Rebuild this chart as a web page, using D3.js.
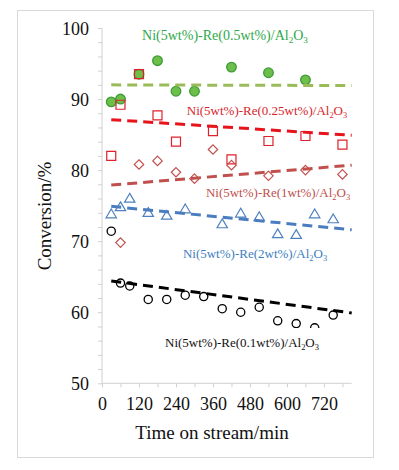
<!DOCTYPE html>
<html>
<head>
<meta charset="utf-8">
<script src="https://cdn.jsdelivr.net/npm/d3@7"></script>
<style>
  body { margin: 0; background: #fff; }
  text { font-family: "Liberation Serif", "Times New Roman", serif; }
</style>
</head>
<body>
<div id="chart"></div>
<script>
const width = 399;
const height = 470;

// series data (time in min, conversion in %)
const re05_time = [30, 60, 120, 180, 240, 300, 420, 540, 660];
const re05_conv = [89.6, 90.0, 93.5, 95.4, 91.1, 91.1, 94.5, 93.7, 92.7];
const re025_time = [30, 60, 120, 180, 240, 360, 420, 540, 660, 780];
const re025_conv = [82.0, 89.2, 93.5, 87.7, 84.0, 85.5, 81.5, 84.1, 84.8, 83.6];
const re1_time = [60, 120, 180, 240, 300, 360, 420, 540, 660, 780];
const re1_conv = [69.8, 80.8, 81.3, 79.7, 78.8, 82.9, 80.7, 79.2, 80.0, 79.4];
const re2_time = [30, 60, 90, 150, 210, 270, 390, 450, 510, 570, 630, 690, 750];
const re2_conv = [73.8, 74.8, 76.0, 74.0, 73.6, 74.5, 72.4, 73.9, 73.4, 71.0, 70.9, 73.8, 73.1];
const re01_time = [30, 60, 90, 150, 210, 270, 330, 390, 450, 510, 570, 630, 690, 750];
const re01_conv = [71.4, 64.1, 63.7, 61.8, 61.8, 62.4, 62.2, 60.5, 60.0, 60.7, 58.8, 58.4, 57.8, 59.6];

// linear trend lines: [start, end] at trend_time
const trend_time = [30, 810];
const re05_trend = [92.0, 91.9];
const re025_trend = [87.1, 84.9];
const re1_trend = [77.9, 80.7];
const re2_trend = [74.9, 71.6];
const re01_trend = [64.4, 59.9];

const x_ticks = [0, 120, 240, 360, 480, 600, 720];
const y_ticks = [50, 60, 70, 80, 90, 100];

const series = [
  { name: 're05', time: re05_time, conv: re05_conv, trend: re05_trend, marker: 'circle',
    fill: '#6cc04a', stroke: '#3f9a38', line: '#9bbb59', label: '0.5', lx: 225, ly: 40, lcol: '#2ea84a', lsize: 14 },
  { name: 're025', time: re025_time, conv: re025_conv, trend: re025_trend, marker: 'square',
    fill: 'none', stroke: '#e0202a', line: '#e8141c', label: '0.25', lx: 267, ly: 115, lcol: '#d8262b', lsize: 13 },
  { name: 're1', time: re1_time, conv: re1_conv, trend: re1_trend, marker: 'diamond',
    fill: 'none', stroke: '#c0504d', line: '#c0504d', label: '1', lx: 278, ly: 197, lcol: '#c0504d', lsize: 13 },
  { name: 're2', time: re2_time, conv: re2_conv, trend: re2_trend, marker: 'triangle',
    fill: 'none', stroke: '#4f81bd', line: '#4a7cc0', label: '2', lx: 255, ly: 258, lcol: '#3d80c0', lsize: 13 },
  { name: 're01', time: re01_time, conv: re01_conv, trend: re01_trend, marker: 'circle',
    fill: 'none', stroke: '#000', line: '#000', label: '0.1', lx: 242, ly: 347, lcol: '#111', lsize: 13 },
];

const x_scale = d3.scaleLinear().domain([0, 810]).range([102, 351.7]);
const y_scale = d3.scaleLinear().domain([50, 100]).range([383.3, 28]);

const svg = d3.select('#chart')
  .append('svg')
    .attr('width', width)
    .attr('height', height);

// outer frame
svg.append('rect')
  .attr('x', 17.5).attr('y', 10.5)
  .attr('width', 356).attr('height', 447)
  .attr('fill', '#fff')
  .attr('stroke', '#d9d9d9');

// axes
const x_axis = d3.axisBottom(x_scale)
  .tickValues(d3.range(0, 781, 60))
  .tickSize(4)
  .tickFormat(d => x_ticks.includes(d) ? d : '');
const gx = svg.append('g')
  .attr('transform', 'translate(0,' + y_scale(50) + ')')
  .call(x_axis);

const y_axis = d3.axisLeft(y_scale)
  .tickValues(d3.range(50, 101, 2))
  .tickSize(4)
  .tickFormat(d => y_ticks.includes(d) ? d : '');
const gy = svg.append('g')
  .attr('transform', 'translate(' + x_scale(0) + ',0)')
  .call(y_axis);

[gx, gy].forEach(g => {
  g.attr('font-family', null);
  g.select('.domain').remove();
  g.selectAll('.tick line').attr('stroke', '#d0d0d0');
  g.selectAll('.tick text')
    .attr('fill', '#111')
    .style('font-size', '18px');
});
svg.append('line')
  .attr('x1', x_scale(0)).attr('x2', x_scale(810))
  .attr('y1', y_scale(50)).attr('y2', y_scale(50))
  .attr('stroke', '#d0d0d0');
svg.append('line')
  .attr('x1', x_scale(0)).attr('x2', x_scale(0))
  .attr('y1', y_scale(50)).attr('y2', y_scale(100))
  .attr('stroke', '#d0d0d0');
gx.selectAll('.tick text').attr('dy', '1.1em');
gy.selectAll('.tick text').attr('x', -13).attr('dy', '0.35em');

// axis titles
svg.append('text')
  .attr('x', 212).attr('y', 439)
  .attr('text-anchor', 'middle')
  .style('font-size', '19px')
  .attr('fill', '#111')
  .text('Time on stream/min');
svg.append('text')
  .attr('transform', 'translate(51,216) rotate(-90)')
  .attr('text-anchor', 'middle')
  .style('font-size', '19px')
  .attr('fill', '#111')
  .text('Conversion/%');

// markers
const marker_path = (type) => {
  if (type === 'square') return 'M-4.5,-4.5H4.5V4.5H-4.5Z';
  if (type === 'diamond') return 'M0,-4.7L4.7,0L0,4.7L-4.7,0Z';
  if (type === 'triangle') return 'M0,-5.2L5.2,3.6H-5.2Z';
  return null;
};

series.forEach(s => {
  const pts = s.time.map((t, i) => ({ t: t, v: s.conv[i] }));
  const g = svg.append('g').attr('class', 'series-' + s.name);
  if (s.marker === 'circle') {
    g.selectAll('circle')
        .data(pts)
      .join('circle')
        .attr('cx', d => x_scale(d.t))
        .attr('cy', d => y_scale(d.v))
        .attr('r', s.fill === 'none' ? 4.1 : 4.8)
        .attr('fill', s.fill === 'none' ? 'none' : s.fill)
        .attr('stroke', s.stroke)
        .attr('stroke-width', 1.3);
  } else {
    g.selectAll('path')
        .data(pts)
      .join('path')
        .attr('transform', d => 'translate(' + x_scale(d.t) + ',' + y_scale(d.v) + ')')
        .attr('d', marker_path(s.marker))
        .attr('fill', 'none')
        .attr('stroke', s.stroke)
        .attr('stroke-width', 1.2);
  }
});

// white box behind the bottom label hides part of a marker, like the original
svg.append('rect')
  .attr('x', 158).attr('y', 328)
  .attr('width', 168).attr('height', 26)
  .attr('fill', '#fff');

// trend lines
series.forEach(s => {
  svg.append('line')
    .attr('x1', x_scale(trend_time[0])).attr('y1', y_scale(s.trend[0]))
    .attr('x2', x_scale(trend_time[1])).attr('y2', y_scale(s.trend[1]))
    .attr('stroke', s.line)
    .attr('stroke-width', 3)
    .attr('stroke-dasharray', '10,6');
});

// series labels
series.forEach(s => {
  const t = svg.append('text')
    .attr('x', s.lx).attr('y', s.ly)
    .attr('text-anchor', 'middle')
    .attr('fill', s.lcol)
    .style('font-size', s.lsize + 'px');
  t.append('tspan').text('Ni(5wt%)-Re(' + s.label + 'wt%)/Al');
  t.append('tspan').attr('dy', 3).style('font-size', (s.lsize * 0.65) + 'px').text('2');
  t.append('tspan').attr('dy', -3).text('O');
  t.append('tspan').attr('dy', 3).style('font-size', (s.lsize * 0.65) + 'px').text('3');
});
</script>
</body>
</html>
